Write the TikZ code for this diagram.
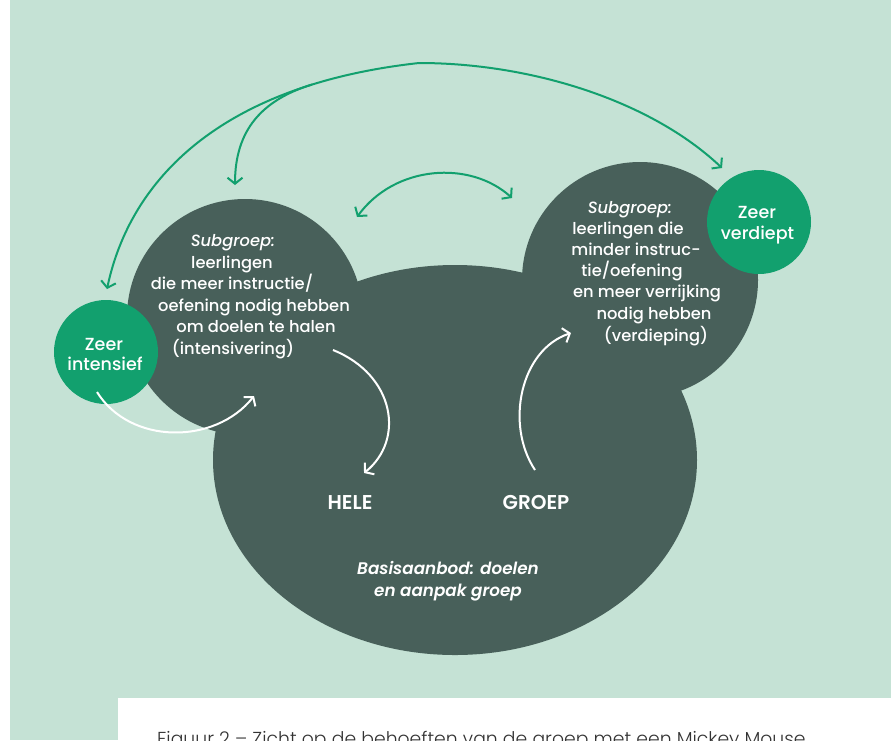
\documentclass[tikz,border=0pt]{standalone}
\usepackage{fontspec}
\setmainfont{Poppins}[UprightFont=* Medium, ItalicFont=* Medium Italic, BoldFont=* SemiBold, BoldItalicFont=* SemiBold Italic]
\newfontfamily\capfont{Poppins}[UprightFont=* Light]
\usetikzlibrary{arrows.meta}
\definecolor{bg}{HTML}{C5E2D5}
\definecolor{dark}{HTML}{48605A}
\definecolor{grn}{HTML}{12A06E}
\definecolor{capc}{HTML}{333333}
\begin{document}
\begin{tikzpicture}[x=1pt,y=-1pt,
  body/.style={text=white,inner sep=0pt,anchor=base,font=\fontsize{16.3}{18}\selectfont},
  subg/.style={body,font=\fontsize{16.3}{18}\selectfont\itshape},
  ctext/.style={body,font=\fontsize{17.5}{20}\selectfont},
  bold/.style={body,font=\fontsize{20}{22}\selectfont\bfseries},
  bolditc/.style={body,font=\fontsize{16.8}{18}\selectfont\bfseries\itshape},
  circ/.style={circle,fill=grn,minimum size=104pt,inner sep=0pt},
  tipstyle/.style={line width=2pt,line cap=butt},
  garrow/.style={tipstyle,draw=grn,-{Straight Barb[length=6pt,width=15pt]}},
  garrowboth/.style={tipstyle,draw=grn,{Straight Barb[length=6pt,width=15pt]}-{Straight Barb[length=6pt,width=15pt]}},
  warrow/.style={tipstyle,draw=white,-{Straight Barb[length=6pt,width=15pt]}}
]
\useasboundingbox (0,0) rectangle (891,740);
\clip (0,0) rectangle (891,740);
\fill[white] (0,0) rectangle (891,740);
\fill[bg] (10,0) rectangle (891,740);
\fill[white] (118,698) rectangle (891,740);
% Mickey shape
\fill[dark] (455,460) ellipse [x radius=242pt, y radius=195pt];
\fill[dark] (245,317) circle [radius=118pt];
\fill[dark] (640,280) circle [radius=118pt];
% green circles
\node[circ] (zi) at (106,352) {};
\node[circ] (zv) at (759,222) {};
% coordinates for connectors
\coordinate (gL) at (107,289);
\coordinate (gTop) at (419,63);
\coordinate (gR) at (722,168);
\coordinate (gBr) at (312,84.5);
\coordinate (gBrEnd) at (235,185);
\coordinate (e1) at (357,217);
\coordinate (e2) at (512,198);
\coordinate (w1s) at (97,392);
\coordinate (w1e) at (254,396);
\coordinate (w2s) at (333,350);
\coordinate (w2e) at (364,473);
\coordinate (w3s) at (535,470);
\coordinate (w3e) at (571,333);
% green arrows
\draw[garrowboth] (gL) .. controls (130,180) and (220,85) .. (gTop) .. controls (530,63) and (650,100) .. (gR);
\draw[garrow] (gBr) .. controls (262,100) and (235,130) .. (gBrEnd);
\draw[garrowboth] (e1) .. controls (395,165) and (470,160) .. (e2);
% white arrows
\draw[warrow] (w1s) .. controls (130,445) and (215,445) .. (w1e);
\draw[warrow] (w2s) .. controls (395,375) and (405,440) .. (w2e);
\draw[warrow] (w3s) .. controls (505,425) and (520,350) .. (w3e);
% circle texts
\node[ctext] (zi1) at (104,350) {Zeer};
\node[ctext] (zi2) at (105,370.7) {intensief};
\node[ctext] (zv1) at (757,218.3) {Zeer};
\node[ctext] (zv2) at (757.5,239.3) {verdiept};
% left ear text
\node[subg] (l1) at (233,246.5) {Subgroep:};
\node[body] (l2) at (232,268.1) {leerlingen};
\node[body] (l3) at (232,289.7) {die meer instructie/};
\node[body] (l4) at (254,311.3) {oefening nodig hebben};
\node[body] (l5) at (256,332.9) {om doelen te halen};
\node[body] (l6) at (233,354.5) {(intensivering)};
% right ear text
\node[subg] (r1) at (630,213.3) {Subgroep:};
\node[body] (r2) at (628,234) {leerlingen die};
\node[body] (r3) at (636,255.7) {minder instruc-};
\node[body] (r4) at (632,276.7) {tie/oefening};
\node[body] (r5) at (647,297.7) {en meer verrijking};
\node[body] (r6) at (654,319.3) {nodig hebben};
\node[body] (r7) at (656,341) {(verdieping)};
% head text
\node[bold] (hele) at (350,509.3) {HELE};
\node[bold] (groep) at (536,509.3) {GROEP};
\node[bolditc] (b1) at (448,574.3) {Basisaanbod: doelen};
\node[bolditc] (b2) at (448,596) {en aanpak groep};
% caption
\node[anchor=base west,inner sep=0pt,text=capc,font=\capfont\fontsize{18.8}{20}\selectfont] (caption) at (157,745) {Figuur 2 – Zicht op de behoeften van de groep met een Mickey Mouse};
\end{tikzpicture}
\end{document}
